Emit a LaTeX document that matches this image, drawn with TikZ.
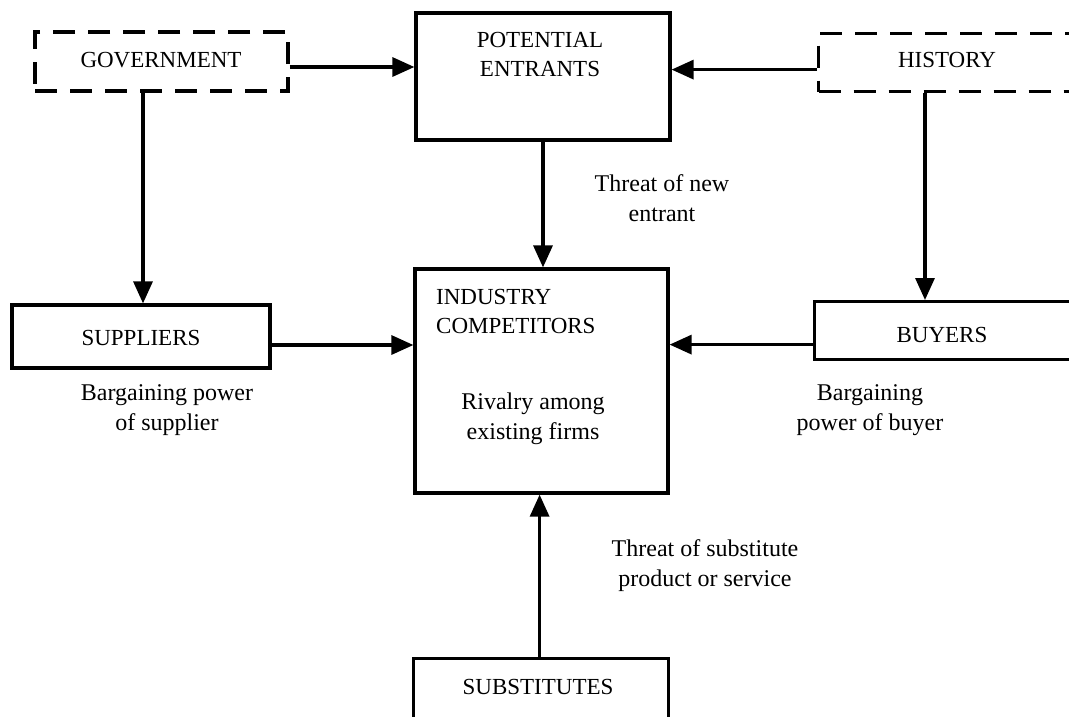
\documentclass[tikz,border=0pt]{standalone}
\usepackage{fontspec}
\setmainfont{Liberation Serif}
\usetikzlibrary{arrows.meta}
\begin{document}
\begin{tikzpicture}[x=1pt,y=-1pt,
  box/.style={draw, line width=3.2pt, inner sep=0pt, fill=none},
  dbox/.style={box, dash pattern=on 22pt off 13pt},
  txt/.style={inner sep=0pt, font=\fontsize{23}{29}\selectfont, align=center},
  lbl/.style={inner sep=0pt, font=\fontsize{24}{30}\selectfont, align=center},
  arr/.style={line width=3.2pt, -{Triangle[length=22pt,width=19pt]}}]
\useasboundingbox (0,0) rectangle (1069,716);

% frames
\node[dbox, minimum width=253pt, minimum height=59pt] (gov) at (161.5,61.5) {};
\node[box,  minimum width=254pt, minimum height=127pt] (pe) at (543,76.5) {};
\node[dbox, minimum width=280pt, minimum height=58pt, anchor=north west] (hist) at (817,32) {};
\node[box,  minimum width=258pt, minimum height=63pt] (sup) at (141,336.5) {};
\node[box,  minimum width=253pt, minimum height=224pt] (ind) at (541.5,381) {};
\node[box,  minimum width=280pt, minimum height=58pt, anchor=north west] (buy) at (813,300) {};
\node[box,  minimum width=255pt, minimum height=90pt, anchor=north west] (sub) at (412,657) {};

% captions inside the frames
\node[txt] (govt) at (161,60) {GOVERNMENT};
\node[txt] (pet) at (540,54) {POTENTIAL\\ENTRANTS};
\node[txt] (histt) at (947,60) {HISTORY};
\node[txt] (supt) at (141,338) {SUPPLIERS};
\node[txt, align=left, anchor=west] (indt) at (436,311) {INDUSTRY\\COMPETITORS};
\node[lbl] (rivt) at (533,419) {Rivalry among\\existing firms};
\node[txt] (buyt) at (942,335) {BUYERS};
\node[txt] (subt) at (538,687) {SUBSTITUTES};

% force labels
\node[lbl] (newl) at (662,198) {Threat of new\\entrant};
\node[lbl] (supl) at (167,410) {Bargaining power\\of supplier};
\node[lbl] (buyl) at (870,410) {Bargaining\\power of buyer};
\node[lbl] (subl) at (705,566) {Threat of substitute\\product or service};

% connectors
\draw[arr] ([yshift=-5.5pt]gov.east) -- ([yshift=-5.5pt]gov.east -| pe.west);
\draw[arr] ([yshift=-7pt]hist.west) -- ([yshift=-7pt]hist.west -| pe.east);
\draw[arr] ([xshift=-18.5pt]gov.south) -- ([xshift=-18.5pt]gov.south |- sup.north);
\draw[arr] (hist.south -| 925,0) -- (buy.north -| 925,0);
\draw[arr] (pe.south) -- (pe.south |- ind.north);
\draw[arr] ([yshift=-8.5pt]sup.east) -- ([yshift=-8.5pt]sup.east -| ind.west);
\draw[arr] ([yshift=-14pt]buy.west) -- ([yshift=-14pt]buy.west -| ind.east);
\draw[arr] ([xshift=-1.5pt]sub.north) -- ([xshift=-1.5pt]sub.north |- ind.south);
\end{tikzpicture}
\end{document}
